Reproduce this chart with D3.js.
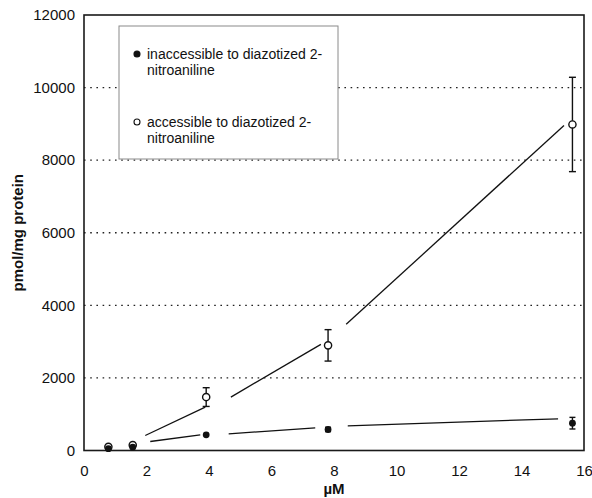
<!DOCTYPE html>
<html>
<head>
<meta charset="utf-8">
<script src="https://cdn.jsdelivr.net/npm/d3@7"></script>
<style>
  body { margin: 0; background: #fff; }
  svg { display: block; font-family: "Liberation Sans", Arial, sans-serif; }
</style>
</head>
<body>
<div id="chart"></div>
<script>
  // concentrations (µM)
  const conc = [0.78, 1.56, 3.91, 7.81, 15.63];

  // pmol/mg protein, mean and error
  const accessible = [100, 150, 1472, 2897, 8984];
  const accessibleErr = [0, 0, 258, 433, 1300];
  const inaccessible = [50, 90, 433, 579, 753];
  const inaccessibleErr = [0, 0, 0, 60, 160];

  // fitted line pieces [x1, y1, x2, y2]
  const accessibleFit = [
    [1.96, 414, 3.88, 1195],
    [4.7, 1472, 7.58, 2924],
    [8.39, 3476, 15.36, 8957],
  ];
  const inaccessibleFit = [
    [2.12, 248, 3.72, 433],
    [4.63, 460, 7.4, 626],
    [8.44, 681, 15.17, 874],
  ];

  const xTicks = [0, 2, 4, 6, 8, 10, 12, 14, 16];
  const yTicks = [0, 2000, 4000, 6000, 8000, 10000, 12000];
  const legendLabels = [
    ["inaccessible to diazotized 2-", "nitroaniline"],
    ["accessible to diazotized 2-", "nitroaniline"],
  ];

  const width = 592;
  const height = 498;
  const margin = { top: 15, right: 8, bottom: 47.5, left: 84 };

  const svg = d3
    .select("#chart")
    .append("svg")
    .attr("width", width)
    .attr("height", height);

  const x = d3
    .scaleLinear()
    .domain([0, 16])
    .range([margin.left, width - margin.right]);
  const y = d3
    .scaleLinear()
    .domain([0, 12000])
    .range([height - margin.bottom, margin.top]);

  // dotted gridlines
  svg
    .append("g")
    .selectAll("line")
    .data(yTicks.filter((d) => d > 0 && d < 12000))
    .join("line")
    .attr("x1", x(0))
    .attr("x2", x(16))
    .attr("y1", (d) => y(d))
    .attr("y2", (d) => y(d))
    .style("stroke", "#222")
    .style("stroke-width", 1.3)
    .style("stroke-dasharray", "1.6,4.6");

  // axes (labels only, no tick marks)
  const yAxis = svg
    .append("g")
    .attr("transform", `translate(${x(0)},0)`)
    .call(d3.axisLeft(y).tickValues(yTicks).tickSize(0).tickPadding(9).tickFormat(d3.format("d")));
  const xAxis = svg
    .append("g")
    .attr("transform", `translate(0,${y(0)})`)
    .call(d3.axisBottom(x).tickValues(xTicks).tickSize(0).tickPadding(15).tickFormat(d3.format("d")));
  [xAxis, yAxis].forEach((g) => {
    g.select(".domain").remove();
    g.selectAll("text")
      .style("font-size", "15px")
      .style("font-family", '"Liberation Sans", Arial, sans-serif')
      .style("fill", "#111");
  });

  // plot frame
  svg
    .append("rect")
    .attr("x", x(0))
    .attr("y", y(12000))
    .attr("width", x(16) - x(0))
    .attr("height", y(0) - y(12000))
    .style("fill", "none")
    .style("stroke", "#1a1a1a")
    .style("stroke-width", 1.6);

  // legend (white box covers gridlines)
  const legend = svg.append("g");
  legend
    .append("rect")
    .attr("x", 119)
    .attr("y", 26)
    .attr("width", 219)
    .attr("height", 133)
    .style("fill", "#fff")
    .style("stroke", "#8a8a8a")
    .style("stroke-width", 1);

  legendLabels.forEach((lines, i) => {
    const top = 59 + i * 68;
    legend
      .append("circle")
      .attr("cx", 137)
      .attr("cy", top - 5)
      .attr("r", 3)
      .style("fill", i === 0 ? "#111" : "#fff")
      .style("stroke", "#111")
      .style("stroke-width", 1.1);
    lines.forEach((t, j) => {
      legend
        .append("text")
        .attr("x", 147)
        .attr("y", top + j * 16)
        .style("font-size", "14px")
        .style("fill", "#111")
        .text(t);
    });
  });

  // fitted line pieces
  const drawFit = (pieces) =>
    svg
      .append("g")
      .selectAll("line")
      .data(pieces)
      .join("line")
      .attr("x1", (d) => x(d[0]))
      .attr("y1", (d) => y(d[1]))
      .attr("x2", (d) => x(d[2]))
      .attr("y2", (d) => y(d[3]))
      .style("stroke", "#111")
      .style("stroke-width", 1.3);
  drawFit(accessibleFit);
  drawFit(inaccessibleFit);

  // error bars
  function drawErrors(values, errs, cap) {
    const data = conc
      .map((c, i) => ({ c, v: values[i], e: errs[i] }))
      .filter((d) => d.e > 0);
    const g = svg.append("g").style("stroke", "#111").style("stroke-width", 1.4);
    g.selectAll("line.v")
      .data(data)
      .join("line")
      .attr("class", "v")
      .attr("x1", (d) => x(d.c))
      .attr("x2", (d) => x(d.c))
      .attr("y1", (d) => y(d.v - d.e))
      .attr("y2", (d) => y(d.v + d.e));
    [1, -1].forEach((s) => {
      g.selectAll(`line.cap${s}`)
        .data(data)
        .join("line")
        .attr("class", `cap${s}`)
        .attr("x1", (d) => x(d.c) - cap)
        .attr("x2", (d) => x(d.c) + cap)
        .attr("y1", (d) => y(d.v + s * d.e))
        .attr("y2", (d) => y(d.v + s * d.e));
    });
  }
  drawErrors(accessible, accessibleErr, 3.5);
  drawErrors(inaccessible, inaccessibleErr, 3);

  // markers
  svg
    .append("g")
    .selectAll("circle")
    .data(conc)
    .join("circle")
    .attr("cx", (d) => x(d))
    .attr("cy", (d, i) => y(accessible[i]))
    .attr("r", 3.6)
    .style("fill", "#fff")
    .style("stroke", "#111")
    .style("stroke-width", 1.4);
  svg
    .append("g")
    .selectAll("circle")
    .data(conc)
    .join("circle")
    .attr("cx", (d) => x(d))
    .attr("cy", (d, i) => y(inaccessible[i]))
    .attr("r", 3.4)
    .style("fill", "#111");

  // axis titles
  svg
    .append("text")
    .attr("text-anchor", "middle")
    .attr("x", (x(0) + x(16)) / 2)
    .attr("y", 494)
    .style("font-size", "15px")
    .style("font-weight", "bold")
    .style("fill", "#111")
    .text("µM");
  svg
    .append("text")
    .attr("text-anchor", "middle")
    .attr("transform", `translate(23,${(y(0) + y(12000)) / 2}) rotate(-90)`)
    .style("font-size", "15px")
    .style("font-weight", "bold")
    .style("fill", "#111")
    .text("pmol/mg protein");
</script>
</body>
</html>
